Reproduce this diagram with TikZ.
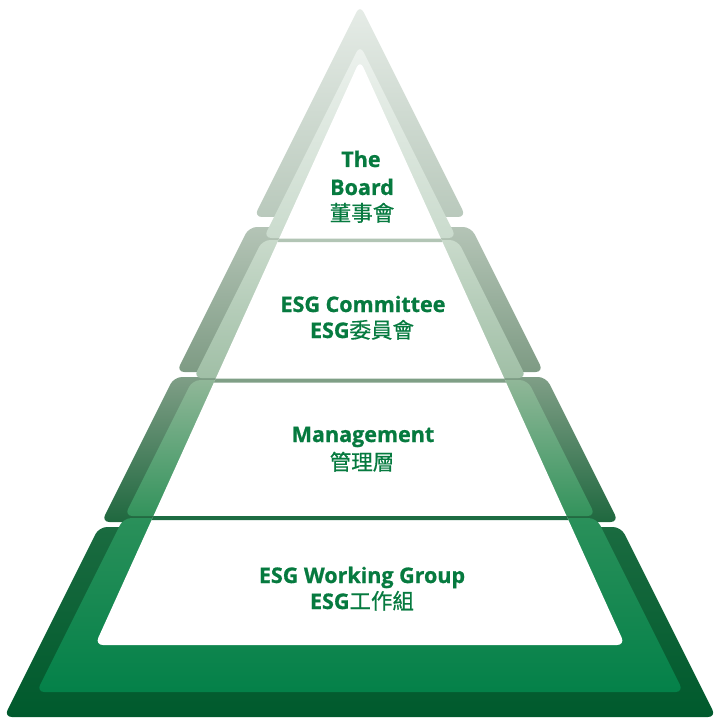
\documentclass[tikz,border=0pt]{standalone}
\usepackage{fontspec}
\setmainfont{Open Sans}[BoldFeatures={FakeBold=0.8}]
\newfontfamily\cjk{Noto Sans CJK TC}[FakeBold=0.6]
\definecolor{txtgreen}{HTML}{067A3F}
\definecolor{dAtop}{HTML}{E6ECE7}\definecolor{dAbot}{HTML}{B9C9BC}
\definecolor{dBtop}{HTML}{B4C4B6}\definecolor{dBbot}{HTML}{7E9B84}
\definecolor{dCtop}{HTML}{7F9E86}\definecolor{dCbot}{HTML}{1F683F}
\definecolor{dDtop}{HTML}{1A6B40}\definecolor{dDmid}{HTML}{005C30}\definecolor{dDbot}{HTML}{005A2D}
\definecolor{lAtop}{HTML}{EDF2EE}\definecolor{lAbot}{HTML}{CADBCD}
\definecolor{lBtop}{HTML}{C9DACB}\definecolor{lBbot}{HTML}{A0BFA6}
\definecolor{lCtop}{HTML}{90B798}\definecolor{lCbot}{HTML}{33935C}
\definecolor{lDtop}{HTML}{2A905A}\definecolor{lDmid}{HTML}{05834A}\definecolor{lDbot}{HTML}{048149}
\definecolor{sepA}{HTML}{B2C5B5}
\definecolor{sepB}{HTML}{7F9F86}
\definecolor{sepC}{HTML}{1D6C42}
\begin{document}
\begin{tikzpicture}[x=1pt,y=-1pt,
  band/.style={rounded corners=8pt},
  lbl/.style={anchor=base, text=txtgreen, inner sep=0pt, font=\fontsize{21.5}{25}\selectfont\bfseries},
  clbl/.style={anchor=base, text=txtgreen, inner sep=0pt, font=\fontsize{21.5}{25}\selectfont\bfseries}]
\useasboundingbox (0,0) rectangle (718,719);
% dark outer tiers
\shade[band, top color=dAtop, bottom color=dAbot] (360,5) -- (466,217) -- (254,217) -- cycle;
\shade[band, top color=dBtop, bottom color=dBbot] (249,227) -- (471,227) -- (543.5,372) -- (176.5,372) -- cycle;
\shade[band, top color=dCtop, bottom color=dCbot] (174,377) -- (546,377) -- (618.5,522) -- (101.5,522) -- cycle;
\shade[band, top color=dDtop, middle color=dDmid, bottom color=dDbot] (99,527) -- (621,527) -- (716,717) -- (4,717) -- cycle;
% light inner tiers
\shade[band, top color=lAtop, bottom color=lAbot] (360,45) -- (456.5,238) -- (263.5,238) -- cycle;
\shade[band, top color=lBtop, bottom color=lBbot] (262.5,240) -- (457.5,240) -- (526.5,378) -- (193.5,378) -- cycle;
\shade[band, top color=lCtop, bottom color=lCbot] (192.5,380) -- (527.5,380) -- (595.5,516) -- (124.5,516) -- cycle;
\shade[band, top color=lDtop, middle color=lDmid, bottom color=lDbot] (123.5,518) -- (596.5,518) -- (683.5,692) -- (36.5,692) -- cycle;
% white interior
\fill[white, rounded corners=8pt] (360,60) -- (625,645) -- (95,645) -- cycle;
% separators
\fill[sepA] (279.1,238.5) -- (440.9,238.5) -- (442.4,242) -- (277.6,242) -- cycle;
\fill[sepB] (215.7,378.5) -- (504.3,378.5) -- (506.1,382.5) -- (213.9,382.5) -- cycle;
\fill[sepC] (153.4,516) -- (566.6,516) -- (568.4,520) -- (151.6,520) -- cycle;
% labels
\node[lbl] (t1a) at (361,167) {The};
\node[lbl] (t1b) at (362,195) {Board};
\node[clbl] (t1c) at (362,221) {\cjk\mdseries 董事會};
\node[lbl] (t2a) at (363,312) {ESG Committee};
\node[clbl] (t2b) at (362,338) {ESG{\cjk\mdseries 委員會}};
\node[lbl] (t3a) at (363,442) {Management};
\node[clbl] (t3b) at (362,470) {\cjk\mdseries 管理層};
\node[lbl] (t4a) at (362,583) {ESG Working Group};
\node[clbl] (t4b) at (362,609) {ESG{\cjk\mdseries 工作組}};
\end{tikzpicture}
\end{document}
